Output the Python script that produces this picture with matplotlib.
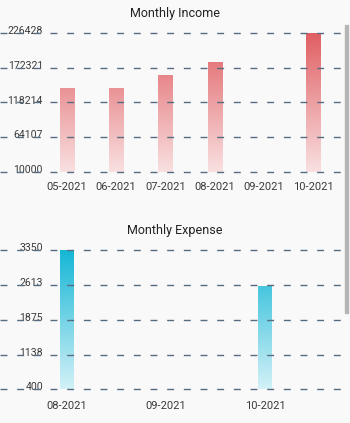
import numpy as np
import matplotlib.pyplot as plt
import matplotlib.transforms as mtransforms
from matplotlib.colors import LinearSegmentedColormap
from matplotlib.patches import Rectangle

plt.rcParams['font.family'] = ['Roboto', 'DejaVu Sans']

income_months = ["05-2021", "06-2021", "07-2021", "08-2021", "09-2021", "10-2021"]
income_values = [141400, 141400, 161500, 181600, 0, 226428]
income_ticks = [10000, 64107, 118214, 172321, 226428]

expense_months = ["08-2021", "09-2021", "10-2021"]
expense_values = [3350, 0, 2590]
expense_ticks = [400, 1138, 1875, 2613, 3350]

W, H = 350, 423
bg = "#f9f9f9"
text_c = "#3a3a3a"
dash_c = "#566d81"

fig = plt.figure(figsize=(W / 100, H / 100), dpi=100, facecolor=bg)


def px_axes(left, right, top, bottom):
    return fig.add_axes([left / W, 1 - bottom / H, (right - left) / W, (bottom - top) / H])


def draw_chart(ax, title, title_y, months, values, ticks, cmap, bar_w, x_start, x_end, label_y):
    ax.set_facecolor("none")
    for s in ax.spines.values():
        s.set_visible(False)
    n = len(months)
    x = np.arange(n)
    lo, hi = ticks[0], ticks[-1]
    ax.set_xlim(-0.5, n - 0.5)
    ax.set_ylim(lo, hi)
    ax.set_xticks([])
    ax.set_yticks([])

    # dashed grid, running past the axes to the figure edge
    pos = ax.get_position()
    xmin = (x_start / W - pos.x0) / pos.width
    xmax = (x_end / W - pos.x0) / pos.width
    for t in ticks:
        ax.axhline(t, xmin=xmin, xmax=xmax, color=dash_c, lw=1.0,
                   dashes=(5, 7), clip_on=False, zorder=3)

    # gradient bars
    bars = ax.bar(x, np.array(values) - lo, bottom=lo, width=bar_w,
                  color="none", edgecolor="none")
    grad = np.linspace(0, 1, 256).reshape(-1, 1)
    for b, v in zip(bars, values):
        if v <= lo:
            continue
        x0 = b.get_x()
        im = ax.imshow(grad, extent=[x0, x0 + b.get_width(), lo, hi], origin="lower",
                       aspect="auto", cmap=cmap, zorder=2)
        im.set_clip_path(b)
    ax.set_xlim(-0.5, n - 0.5)
    ax.set_ylim(lo, hi)

    # y labels, right aligned at the same spot for both charts
    trans = mtransforms.blended_transform_factory(fig.transFigure, ax.transData)
    off = mtransforms.ScaledTranslation(0, 2 / 100, fig.dpi_scale_trans)
    for t in ticks:
        ax.text(43 / W, t, str(t), transform=trans + off, ha="right", va="center",
                fontsize=7.6, color=text_c, zorder=1)

    # x labels
    tx = mtransforms.blended_transform_factory(ax.transData, fig.transFigure)
    for i, m in enumerate(months):
        ax.text(i, 1 - label_y / H, m, transform=tx, ha="center", va="center",
                fontsize=8, color=text_c)

    fig.text(175 / W, 1 - title_y / H, title, ha="center", va="center",
             fontsize=9, color="#222222")


red_cmap = LinearSegmentedColormap.from_list("r", ["#f9e0e1", "#e05f63"])
blue_cmap = LinearSegmentedColormap.from_list("b", ["#d3f1f8", "#14b6d5"])

ax1 = px_axes(42, 338, 33, 172)
draw_chart(ax1, "Monthly Income", 13, income_months, income_values, income_ticks,
           red_cmap, 14 / 49.33, 0, 343, 187)

ax2 = px_axes(17.5, 314.5, 250.3, 389.3)
draw_chart(ax2, "Monthly Expense", 230, expense_months, expense_values, expense_ticks,
           blue_cmap, 14 / 99, 0, 343, 406)

# scrollbar on the right edge
fig.patches.append(Rectangle((345 / W, 1 - 313 / H), 2.5 / W, 288 / H,
                             transform=fig.transFigure, color="#b5b5b5", zorder=5))

fig.savefig("out.png", dpi=100, facecolor=bg)
